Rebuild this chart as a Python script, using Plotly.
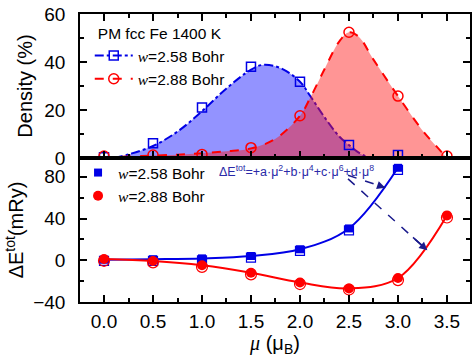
import plotly.graph_objects as go
from plotly.subplots import make_subplots

# ---------------- data ----------------
mu = [0.0, 0.5, 1.0, 1.5, 2.0, 2.5, 3.0, 3.5]
mu_258 = [0.0, 0.5, 1.0, 1.5, 2.0, 2.5, 3.0]

# upper panel: magnetic moment density (%)
dens_w258 = [0.3, 6.1, 21.0, 38.0, 31.8, 5.4, 1.2]
dens_w288 = [0.8, 1.2, 1.5, 4.3, 17.6, 52.4, 25.8, 0.8]

# fitted density curves
fit258_x = [0.1, 0.25, 0.5, 0.75, 1.0, 1.25, 1.5, 1.62, 1.8, 2.0, 2.11, 2.25, 2.4, 2.5, 2.6, 2.71]
fit258_y = [0.0, 1.5, 5.0, 11.0, 19.5, 29.0, 36.8, 38.8, 37.5, 31.8, 25.5, 17.0, 9.0, 5.4, 2.2, 0.0]
fit288_x = [0.0, 0.25, 0.5, 0.75, 1.0, 1.25, 1.5, 1.75, 2.0, 2.11, 2.25, 2.4, 2.5, 2.6, 2.75, 3.0, 3.25, 3.4, 3.5]
fit288_y = [0.3, 0.6, 1.0, 1.4, 2.0, 2.8, 4.0, 8.0, 17.6, 25.5, 37.0, 48.5, 52.4, 50.5, 41.0, 25.8, 11.5, 4.5, 0.0]

# lower panel: total energy difference (mRy), two data sets per w
dE_w258_filled = [0.5, 1.0, 1.8, 4.1, 10.5, 30.5, 88.6]
dE_w258_open = [-0.5, -0.5, 0.0, 2.5, 9.0, 28.6, 86.7]
dE_w288_filled = [1.2, -0.7, -4.8, -12.0, -21.3, -27.0, -17.0, 43.0]
dE_w288_open = [-0.5, -2.0, -6.3, -13.5, -22.8, -28.0, -19.0, 41.0]

x_ticks = [0.0, 0.5, 1.0, 1.5, 2.0, 2.5, 3.0, 3.5]
x_tick_labels = ["0.0", "0.5", "1.0", "1.5", "2.0", "2.5", "3.0", "3.5"]
y1_ticks = [0, 20, 40, 60]
y2_ticks = [-40, 0, 40, 80]

# ---------------- styles ----------------
SANS = "Liberation Sans, Arial, sans-serif"
BLUE = "#0000e6"
RED = "#ff0000"
NAVY = "#1a1a8c"
W_IT = "<span style=\"font-family:'Liberation Serif'\"><i>w</i></span>"

fig = make_subplots(rows=2, cols=1, shared_xaxes=False, vertical_spacing=0)

# ---- upper panel ----
fig.add_trace(go.Scatter(x=fit258_x, y=fit258_y, mode="lines", line=dict(color=BLUE, width=2, dash="dashdot", shape="spline"),
                         fill="tozeroy", fillcolor="rgba(40,40,255,0.5)", showlegend=False), row=1, col=1)
fig.add_trace(go.Scatter(x=fit288_x, y=fit288_y, mode="lines", line=dict(color=RED, width=2, dash="dash", shape="spline"),
                         fill="tozeroy", fillcolor="rgba(255,20,20,0.45)", showlegend=False), row=1, col=1)
fig.add_trace(go.Scatter(x=mu_258, y=dens_w258, mode="markers",
                         marker=dict(symbol="square-open", size=9, color=BLUE, line=dict(width=1.5)),
                         showlegend=False), row=1, col=1)
fig.add_trace(go.Scatter(x=mu, y=dens_w288, mode="markers",
                         marker=dict(symbol="circle-open", size=10, color=RED, line=dict(width=1.5)),
                         showlegend=False), row=1, col=1)
# legend entries (upper)
fig.add_trace(go.Scatter(x=[None], y=[None], mode="lines+markers", name=W_IT + "=2.58 Bohr",
                         line=dict(color=BLUE, width=2, dash="dashdot"),
                         marker=dict(symbol="square-open", size=9, color=BLUE, line=dict(width=1.5)),
                         legend="legend"), row=1, col=1)
fig.add_trace(go.Scatter(x=[None], y=[None], mode="lines+markers", name=W_IT + "=2.88 Bohr",
                         line=dict(color=RED, width=2, dash="dash"),
                         marker=dict(symbol="circle-open", size=10, color=RED, line=dict(width=1.5)),
                         legend="legend"), row=1, col=1)

# ---- lower panel ----
fig.add_trace(go.Scatter(x=mu_258, y=dE_w258_filled, mode="lines", line=dict(color=BLUE, width=2, shape="spline"),
                         showlegend=False), row=2, col=1)
fig.add_trace(go.Scatter(x=mu, y=dE_w288_filled, mode="lines", line=dict(color=RED, width=2, shape="spline"),
                         showlegend=False), row=2, col=1)
fig.add_trace(go.Scatter(x=mu_258, y=dE_w258_open, mode="markers",
                         marker=dict(symbol="square-open", size=9, color=BLUE, line=dict(width=1.2)),
                         showlegend=False), row=2, col=1)
fig.add_trace(go.Scatter(x=mu, y=dE_w288_open, mode="markers",
                         marker=dict(symbol="circle-open", size=11, color=RED, line=dict(width=1.2)),
                         showlegend=False), row=2, col=1)
fig.add_trace(go.Scatter(x=mu_258, y=dE_w258_filled, mode="markers", name=W_IT + "=2.58 Bohr",
                         marker=dict(symbol="square", size=8, color=BLUE), legend="legend2"), row=2, col=1)
fig.add_trace(go.Scatter(x=mu, y=dE_w288_filled, mode="markers", name=W_IT + "=2.88 Bohr",
                         marker=dict(symbol="circle", size=10, color=RED), legend="legend2"), row=2, col=1)

# ---- axes ----
axis_common = dict(showline=True, linecolor="black", linewidth=1.5, ticks="inside", tickcolor="black",
                   tickwidth=1.5, ticklen=7, showgrid=False, zeroline=False, automargin=False,
                   tickfont=dict(family=SANS, size=19, color="black"))
xr = [-0.245, 3.735]
fig.update_xaxes(range=xr, tickvals=x_ticks, ticktext=x_tick_labels, mirror="allticks",
                 minor=dict(ticks="inside", ticklen=4, tickwidth=1.5, tickcolor="black", dtick=0.25, tick0=0.25),
                 **axis_common)
fig.update_xaxes(showticklabels=False, row=1, col=1)
fig.update_xaxes(mirror=True, ticklabelstandoff=1,
                 title=dict(text="<span style=\"font-family:'Liberation Serif'\"><i>μ</i></span> (μ<sub>B</sub>)",
                            font=dict(family=SANS, size=20, color="black"), standoff=0), row=2, col=1)
fig.update_yaxes(mirror="allticks", ticklabelstandoff=9, **axis_common)
fig.update_yaxes(range=[0, 60], tickvals=y1_ticks,
                 minor=dict(ticks="inside", ticklen=4, tickwidth=1.5, tickcolor="black", tickvals=[10, 30, 50]),
                 title=dict(text="Density (%)", font=dict(family=SANS, size=20, color="black"), standoff=6),
                 row=1, col=1)
fig.update_yaxes(range=[-40, 98], tickvals=y2_ticks,
                 minor=dict(ticks="inside", ticklen=4, tickwidth=1.5, tickcolor="black", tickvals=[-20, 20, 60]),
                 title=dict(text="ΔE<sup>tot</sup>(mRy)", font=dict(family=SANS, size=20, color="black"), standoff=4),
                 row=2, col=1)

# ---- annotations: formula and arrows ----
fig.add_annotation(x=1.15, y=86, xref="x2", yref="y2", xanchor="left", yanchor="middle", showarrow=False,
                   text="ΔE<sup>tot</sup>=+a·μ<sup>2</sup>+b·μ<sup>4</sup>+c·μ<sup>6</sup>+d·μ<sup>8</sup>",
                   font=dict(family=SANS, size=12.5, color="#2a2aa8"))
arrows = [((2.49, 81.5), (2.87, 69.5)), ((2.49, 78.0), (3.30, 9.5))]
for (tx, ty), (hx, hy) in arrows:
    fig.add_shape(type="line", x0=tx, y0=ty, x1=hx, y1=hy, xref="x2", yref="y2",
                  line=dict(color=NAVY, width=1.5, dash="dash"))
    fig.add_annotation(x=hx, y=hy, ax=hx - (hx - tx) * 0.2, ay=hy - (hy - ty) * 0.2,
                       xref="x2", yref="y2", axref="x2", ayref="y2", showarrow=True,
                       arrowhead=2, arrowsize=1.1, arrowwidth=1.5, arrowcolor=NAVY, text="")

fig.update_layout(
    width=474, height=362, margin=dict(l=80, r=4, t=14, b=60),
    paper_bgcolor="white", plot_bgcolor="white",
    font=dict(family=SANS, color="black"),
    legend=dict(x=0.025, y=0.983, xanchor="left", yanchor="top", bgcolor="rgba(0,0,0,0)",
                itemwidth=38, tracegroupgap=0,
                font=dict(family=SANS, size=15.5, color="black"),
                title=dict(text="PM fcc Fe 1400 K", side="top center", font=dict(family=SANS, size=15.5, color="black"))),
    legend2=dict(x=-0.005, y=0.507, xanchor="left", yanchor="top", bgcolor="rgba(0,0,0,0)",
                 font=dict(family=SANS, size=15.5, color="black")),
)

fig.write_html("out.html", config={"displayModeBar": False},
               post_script="document.body.style.margin='0px';document.body.style.overflow='hidden';")
